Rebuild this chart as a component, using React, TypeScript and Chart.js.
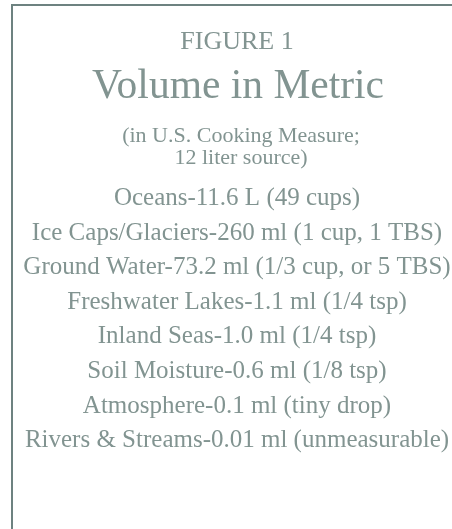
import React, { useEffect, useRef } from "react";
import { Chart, registerables } from "chart.js";

Chart.register(...registerables);

const figureLabel = "FIGURE 1";
const chartTitle = "Volume in Metric";
const subtitleLines = ["(in U.S. Cooking Measure;", "12 liter source)"];

const reservoirs = [
  "Oceans",
  "Ice Caps/Glaciers",
  "Ground Water",
  "Freshwater Lakes",
  "Inland Seas",
  "Soil Moisture",
  "Atmosphere",
  "Rivers & Streams",
];
const volumeLabels = ["11.6 L", "260 ml", "73.2 ml", "1.1 ml", "1.0 ml", "0.6 ml", "0.1 ml", "0.01 ml"];
const measureLabels = [
  "49 cups",
  "1 cup, 1 TBS",
  "1/3 cup, or 5 TBS",
  "1/4 tsp",
  "1/4 tsp",
  "1/8 tsp",
  "tiny drop",
  "unmeasurable",
];

const TEXT_COLOR = "#829491";
const BORDER_COLOR = "#6d8280";
const FONT = "'Liberation Serif', 'Times New Roman', serif";
const CENTER_X = 237;

const textPlugin = {
  id: "textFigure",
  afterDatasetsDraw(chart: any) {
    const ctx = chart.ctx as CanvasRenderingContext2D;
    const w = chart.width;
    const h = chart.height;
    ctx.save();
    // frame
    ctx.fillStyle = BORDER_COLOR;
    ctx.fillRect(11, 4, w - 11, 2);
    ctx.fillRect(11, 4, 2, h - 4);

    ctx.fillStyle = TEXT_COLOR;
    ctx.textAlign = "center";
    ctx.textBaseline = "alphabetic";
    ctx.font = `26px ${FONT}`;
    ctx.fillText(figureLabel, CENTER_X, 49);
    ctx.font = `41.5px ${FONT}`;
    ctx.fillText(chartTitle, CENTER_X + 1, 98);
    ctx.font = `22px ${FONT}`;
    ctx.fillText(subtitleLines[0], CENTER_X + 4, 142);
    ctx.fillText(subtitleLines[1], CENTER_X + 4, 164);

    ctx.font = `25px ${FONT}`;
    const meta = chart.getDatasetMeta(0);
    meta.data.forEach((pt: any, i: number) => {
      const label = `${reservoirs[i]}-${volumeLabels[i]} (${measureLabels[i]})`;
      ctx.fillText(label, pt.x, pt.y);
    });
    ctx.restore();
  },
};

export default function App() {
  const ref = useRef<HTMLCanvasElement>(null);
  useEffect(() => {
    document.body.style.margin = "0";
    const canvas = ref.current;
    if (!canvas) return;
    const chart = new Chart(canvas, {
      type: "scatter",
      data: {
        datasets: [
          {
            data: reservoirs.map((_, i) => ({ x: 0, y: i })),
            pointRadius: 0,
            pointHoverRadius: 0,
          },
        ],
      },
      options: {
        animation: false,
        responsive: false,
        devicePixelRatio: 1,
        layout: { padding: 0 },
        events: [],
        plugins: {
          legend: { display: false },
          tooltip: { enabled: false },
          title: { display: false },
        },
        scales: {
          x: { type: "linear", display: false, min: -237 / 452 * 2, max: (452 - 237) / 452 * 2 },
          y: {
            type: "linear",
            display: false,
            reverse: true,
            min: -205 / 34.6,
            max: -205 / 34.6 + 529 / 34.6,
          },
        },
      },
      plugins: [textPlugin],
    });
    return () => chart.destroy();
  }, []);
  return (
    <div style={{ width: 452, height: 529, background: "#ffffff" }}>
      <canvas ref={ref} width={452} height={529} />
    </div>
  );
}
